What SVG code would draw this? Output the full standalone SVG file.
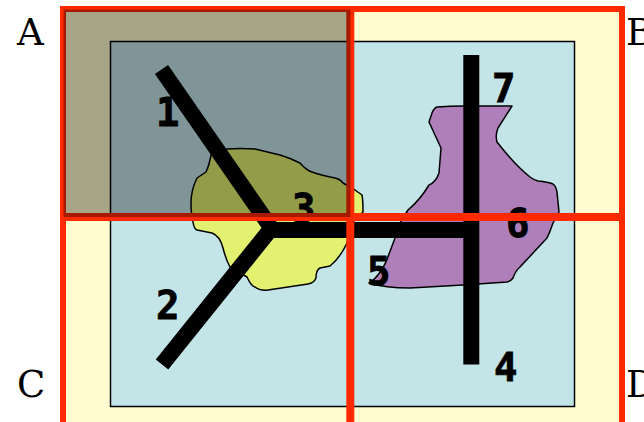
<svg xmlns="http://www.w3.org/2000/svg" width="644" height="422" viewBox="0 0 644 422">
<style>
.lbl{font-family:"DejaVu Serif",serif;font-size:37px;fill:#000}
.num{font-family:"DejaVu Sans Mono",monospace;font-size:39px;font-weight:bold;fill:#000;stroke:#000;stroke-width:0.8}
.blob{stroke:#000;stroke-width:1.5;stroke-linejoin:round}
.bar{fill:none;stroke:#000;stroke-width:16;stroke-linejoin:miter}
.red{fill:none;stroke:#ff2a00}
</style>
<rect width="644" height="422" fill="#fff"/>
<rect x="63" y="9" width="559" height="420" fill="#fffdd0"/>
<rect x="110.500" y="41.500" width="464" height="365" fill="#c4e5e8" stroke="#000" stroke-width="1.500"/>
<g id="region-3"><path class="blob" fill="#e2f170" d="M211 155Q209 166 206 172Q200 176 197 178Q191 190 191 203Q191 215 193 222Q194 229 197 230L212 233Q220 236 223 248Q226 260 230 267L247 277Q251 286 255 287Q260 291 268 290L308 284Q314 283 316 278Q316 270 320 268L330 266Q340 258 347 243L353 222L363 212Q363 200 362 195L355 190L343 183Q340 179 335 178Q320 175 312 172Q306 170 300 163Q290 158 280 155L255 149Q240 148 227 149Q217 149 211 155Z"/></g>
<g id="region-6"><path class="blob" fill="#ae7fb9" d="M437 107Q450 106 463 106L512 106L498 128Q495 135 497 142Q515 165 530 177Q534 180 538 181Q548 182 553 184Q556 186 557 192L559 212L553 223Q550 232 547 238L520 267Q516 270 513 278Q511 281 507 282L463 285L410 288Q385 288 369 283Q382 275 389 254L395 238L401 221L408 210Q420 200 429 185Q436 182 439 173L441 148L429 122L432 113Q434 108 437 107Z"/></g>
<g id="connectors">
<polyline class="bar" points="161.500,69.500 270,226"/>
<polyline class="bar" points="162,364.500 270,230 471.300,230"/>
<line class="bar" x1="471.300" y1="55" x2="471.300" y2="364.500"/>
</g>
<g id="labels">
<text class="num" x="156" y="126">1</text>
<text class="num" x="156" y="319">2</text>
<text class="num" x="292" y="222">3</text>
<text class="num" x="494" y="381">4</text>
<text class="num" x="367" y="285">5</text>
<text class="num" x="506" y="237">6</text>
<text class="num" x="492" y="102">7</text>
<text class="lbl" x="17" y="45">A</text>
<text class="lbl" x="626" y="45">B</text>
<text class="lbl" x="17" y="397">C</text>
<text class="lbl" x="626" y="397">D</text>
</g>
<g id="frame">
<rect class="red" x="63" y="9" width="559" height="420" stroke-width="6"/>
<line class="red" x1="350.300" y1="9" x2="350.300" y2="422" stroke-width="8"/>
<line class="red" x1="63" y1="217" x2="622" y2="217" stroke-width="8"/>
<rect x="63.500" y="9.500" width="287" height="207.500" fill="#000" fill-opacity="0.35"/>
</g>
</svg>
